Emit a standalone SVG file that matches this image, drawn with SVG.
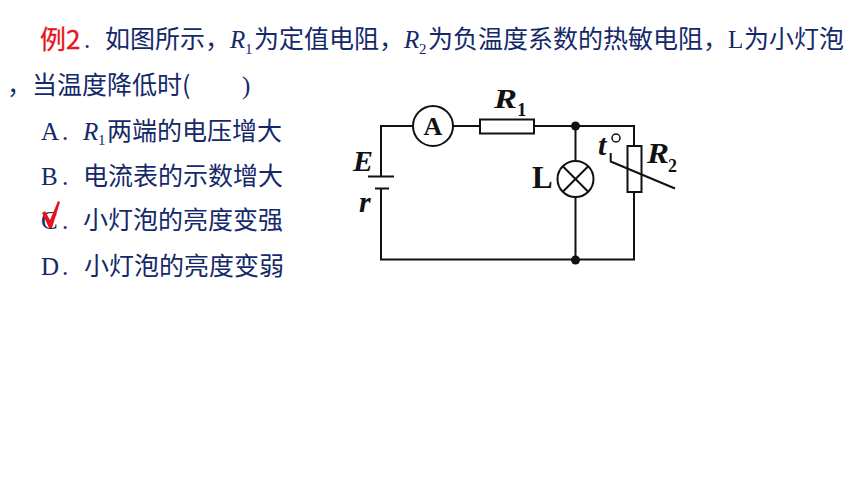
<svg xmlns="http://www.w3.org/2000/svg" width="860" height="484" viewBox="0 0 860 484">
<style>
.t{font-family:"Noto Sans CJK SC","Noto Sans",sans-serif;font-size:25px;fill:#14296a}
.s{font-family:"Liberation Serif",serif;font-size:25px;fill:#14296a}
.i{font-style:italic}
.sub{font-family:"Liberation Serif",serif;font-size:15px;fill:#14296a}
.red{font-family:"Noto Sans CJK SC","Noto Sans",sans-serif;font-size:26px;fill:#e8141c;stroke:#e8141c;stroke-width:.3}
.w{fill:none;stroke:#111;stroke-width:2}
.k{font-family:"Liberation Serif",serif;fill:#111;font-weight:bold}
</style>
<rect width="860" height="484" fill="#fff"/>
<g id="question">
<text class="red" x="40" y="49">例2</text>
<text class="s" x="84" y="48">.</text>
<text class="t" x="105" y="48">如图所示，</text>
<text class="s i" x="230" y="48">R</text><text class="sub" x="245" y="54">1</text>
<text class="t" x="254" y="48">为定值电阻，</text>
<text class="s i" x="404" y="48">R</text><text class="sub" x="419" y="54">2</text>
<text class="t" x="428" y="48">为负温度系数的热敏电阻，</text>
<text class="s" x="728" y="48">L</text>
<text class="t" x="744" y="48">为小灯泡</text>
<text class="t" x="7" y="94">，当温度降低时(</text>
<text class="s" x="242" y="94">)</text>
</g>
<g id="optionA">
<text class="s" x="41" y="140">A</text><text class="s" x="62" y="140">.</text><text class="s i" x="83" y="140">R</text><text class="sub" x="98" y="145">1</text>
<text class="t" x="107" y="140">两端的电压增大</text>
</g>
<g id="optionB">
<text class="s" x="41" y="185">B</text><text class="s" x="62" y="185">.</text>
<text class="t" x="83" y="185">电流表的示数增大</text>
</g>
<g id="optionC">
<text class="s" x="41" y="229">C</text><text class="s" x="62" y="229">.</text>
<text class="t" x="83" y="229">小灯泡的亮度变强</text>
<polygon points="42,213 45,211 50,220 58,201 60,202 52,228 49,228" fill="#e8141c"/>
</g>
<g id="optionD">
<text class="s" x="41" y="275">D</text><text class="s" x="62" y="275">.</text>
<text class="t" x="84" y="275">小灯泡的亮度变弱</text>
</g>
<g id="connectors">
<path class="w" d="M413 126H381V176M381 188V259.500H634V192M453 126H480M534 126H634V146M575.500 126V161M575.500 197V259.500"/>
<path class="w" d="M368 176.500H394M375 188.500H389"/>
<path class="w" d="M610.700 153V161.500L675 188.500"/>
</g>
<g id="ammeter">
<circle class="w" cx="433" cy="126" r="20"/>
<text class="k" x="433" y="135" font-size="26" text-anchor="middle">A</text>
</g>
<g id="R1">
<rect class="w" x="480" y="119.500" width="54" height="14"/>
<text class="k i" x="494" y="108" font-size="28" textLength="23" lengthAdjust="spacingAndGlyphs">R</text>
<text class="k" x="517" y="116" font-size="19">1</text>
</g>
<g id="junctionTop"><circle cx="575.500" cy="126" r="4.500" fill="#111"/></g>
<g id="junctionBottom"><circle cx="575.500" cy="260" r="4.500" fill="#111"/></g>
<g id="lamp">
<circle class="w" cx="575.500" cy="179" r="18"/>
<path class="w" d="M562.800 166.300L588.200 191.700M588.200 166.300L562.800 191.700"/>
<text class="k" x="532" y="188" font-size="31">L</text>
</g>
<g id="R2">
<rect class="w" x="627.500" y="146" width="14" height="46"/>
<text class="k i" x="598" y="155" font-size="30">t</text>
<circle cx="616" cy="138" r="4" fill="none" stroke="#111" stroke-width="1.500"/>
<text class="k i" x="647" y="163" font-size="29" textLength="22" lengthAdjust="spacingAndGlyphs">R</text>
<text class="k" x="668" y="172" font-size="18">2</text>
</g>
<g id="battery">
<text class="k i" x="353" y="171" font-size="30">E</text>
<text class="k i" x="359" y="212" font-size="30">r</text>
</g>
</svg>
